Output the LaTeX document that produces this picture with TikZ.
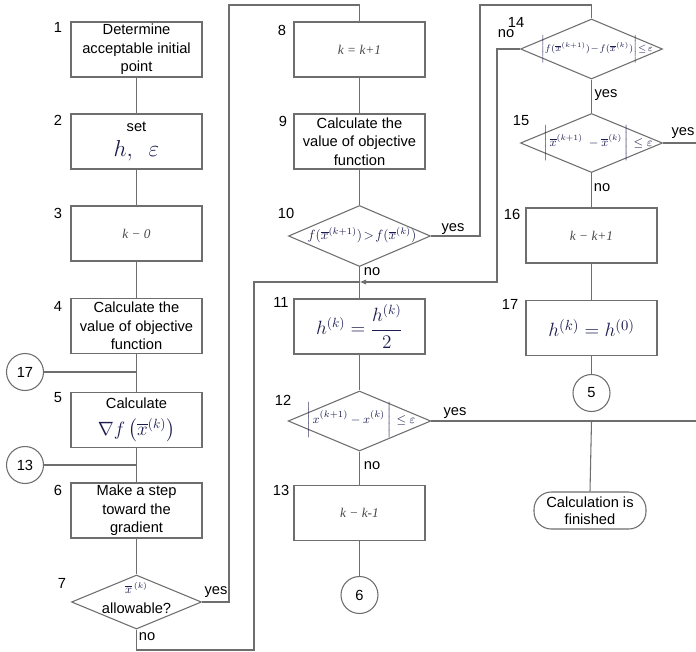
\documentclass[tikz,border=0pt]{standalone}
\usepackage{fontspec}
\usepackage{amsmath}
\setmainfont{Liberation Sans}
\newfontfamily\timesf{Liberation Serif}
\usetikzlibrary{arrows.meta,shapes.geometric}
\definecolor{ln}{HTML}{6E6E6E}
\definecolor{mc}{HTML}{1C1C50}
\definecolor{kc}{HTML}{4A4A4A}
\tikzset{
  conn/.style={draw=ln, line width=0.8pt},
  boxn/.style={draw=ln, line width=0.8pt, fill=white, minimum width=98.25pt, minimum height=41.25pt, inner sep=1pt, align=center, font=\fontsize{11}{13.8}\selectfont},
  kbox/.style={boxn, font=\fontsize{10}{12}\timesf\itshape, text=kc},
  mbox/.style={boxn, text=mc},
  dian/.style={draw=ln, line width=0.8pt, fill=white, shape=diamond, inner sep=0pt},
  circn/.style={draw=ln, line width=0.8pt, fill=white, circle, minimum size=27.75pt, inner sep=0pt, font=\fontsize{11}{13}\selectfont},
  numl/.style={font=\fontsize{11}{13}\selectfont, inner sep=0pt},
  lbl/.style={font=\fontsize{11}{13}\selectfont, inner sep=0pt},
  mtext/.style={text=mc, inner sep=0pt, align=center},
  termn/.style={draw=ln, line width=0.8pt, fill=white, rounded corners=13pt, minimum width=84pt, minimum height=27.75pt, inner sep=0pt, align=center, font=\fontsize{11}{13}\selectfont}
}
\begin{document}
\begin{tikzpicture}[x=0.75pt, y=-0.75pt]
\useasboundingbox (0,0) rectangle (696,651);
\fill[white] (0,0) rectangle (696,651);

% column 1
\node[boxn] (b1) at (136.5,49.5) {Determine\\acceptable initial\\point};
\node[boxn] (b2) at (136.5,141.5) {set\\[5pt]{\color{mc}\fontsize{16}{18}\selectfont$h,\ \ {\textstyle\varepsilon}$}};
\node[kbox] (b3) at (136.5,233.5) {k − 0};
\node[boxn] (b4) at (136.5,326) {Calculate the\\value of objective\\function};
\node[boxn] (b5) at (136.5,420) {Calculate\\[6pt]{\color{mc}\fontsize{14}{16}\selectfont$\nabla f\left(\overline{x}^{(k)}\right)$}};
\node[boxn] (b6) at (136.5,510.5) {Make a step\\toward the\\gradient};
\node[dian, minimum width=97.5pt, minimum height=40.5pt] (d7) at (136.5,602) {};
\node[mtext, font=\fontsize{9}{11}\selectfont] (t7a) at (136.5,588) {$\overline{x}^{\,(k)}$};
\node[lbl] (t7b) at (136.5,608) {allowable?};

\node[circn] (c17) at (25,372) {17};
\node[circn] (c13) at (25,465) {13};

% column 2
\node[kbox] (b8) at (359.5,49.5) {k = k+1};
\node[boxn] (b9) at (359.5,141.5) {Calculate the\\value of objective\\function};
\node[dian, minimum width=106.5pt, minimum height=45.75pt] (d10) at (359.5,236) {};
\node[mtext, font=\fontsize{10}{12}\selectfont] (t10) at (362,235) {$f(\overline{x}^{(k+1)})\!>\!f(\overline{x}^{(k)})$};
\node[mbox, font=\fontsize{14}{16}\selectfont] (b11) at (359.5,326.5) {$h^{(k)}=\dfrac{h^{(k)}}{2}$};
\node[dian, minimum width=107pt, minimum height=45pt] (d12) at (359.5,421) {};
\node[mtext, font=\fontsize{9.5}{11}\selectfont] (t12) at (361,420) {$\Bigg|\,x^{(k+1)}-x^{(k)}\,\Bigg|\,\le\varepsilon$};
\node[kbox] (b13) at (359.5,513) {k − k-1};
\node[circn] (c6) at (359.5,595) {6};

% column 3
\node[dian, minimum width=106.5pt, minimum height=45pt] (d14) at (591.5,49) {};
\node[mtext, font=\fontsize{7}{9}\selectfont] (t14) at (597,49) {$\Bigg|f(\overline{x}^{(k+1)})\!-\!f(\overline{x}^{(k)})\Bigg|\!\le\!\varepsilon$};
\node[dian, minimum width=106.5pt, minimum height=44.25pt] (d15) at (591.5,143) {};
\node[mtext, font=\fontsize{9}{11}\selectfont] (t15) at (598,143) {$\Bigg|\,\overline{x}^{(k+1)}\ -\overline{x}^{(k)}\,\Bigg|\,\le\varepsilon$};
\node[kbox] (b16) at (591.5,235.5) {k − k+1};
\node[mbox, font=\fontsize{15}{17}\selectfont] (b17) at (591.5,328) {$h^{(k)}=h^{(0)}$};
\node[circn] (c5) at (591.5,393) {5};
\node[termn] (term) at (590,510.5) {Calculation is\\finished};

% step numbers
\node[numl] (n1) at (58,27) {1};
\node[numl] (n2) at (58,120) {2};
\node[numl] (n3) at (58,213) {3};
\node[numl] (n4) at (58,306) {4};
\node[numl] (n5) at (58,398) {5};
\node[numl] (n6) at (58,490) {6};
\node[numl] (n7) at (62,583) {7};
\node[numl] (n8) at (282,30) {8};
\node[numl] (n9) at (283,121) {9};
\node[numl] (n10) at (286,213) {10};
\node[numl] (n11) at (281,302) {11};
\node[numl] (n12) at (283,400) {12};
\node[numl] (n13) at (281,490) {13};
\node[numl] (n14) at (516,22) {14};
\node[numl] (n15) at (521,121) {15};
\node[numl] (n16) at (512,214) {16};
\node[numl] (n17) at (510,304) {17};

% yes / no labels
\node[lbl] (y7) at (216,592) {yes};
\node[lbl] (no7) at (147,637) {no};
\node[lbl] (y10) at (453,229) {yes};
\node[lbl] (no10) at (372,272) {no};
\node[lbl] (y12) at (455,413) {yes};
\node[lbl] (no12) at (372,466) {no};
\node[lbl] (no14) at (506,34) {no};
\node[lbl] (y14) at (606,95) {yes};
\node[lbl] (y15) at (683,133) {yes};
\node[lbl] (no15) at (602,188) {no};

% coordinates
\coordinate (p7a) at (229,5);
\coordinate (p7b) at (254,650);
\coordinate (j11) at (359.5,282);
\coordinate (p10) at (480,5);
\coordinate (p14) at (497,282);
\coordinate (e15) at (696,143);
\coordinate (e12) at (696,421);
\coordinate (j5) at (591.5,421);

% connectors column 1
\draw[conn] (b1) -- (b2);
\draw[conn] (b2) -- (b3);
\draw[conn] (b3) -- (b4);
\draw[conn] (b4) -- (b5);
\draw[conn] (b5) -- (b6);
\draw[conn] (b6) -- (d7);
\draw[conn] (c17) -- (c17 -| b4.south);
\draw[conn] (c13) -- (c13 -| b5.south);
\draw[conn] (d7.east) -| (p7a) -| (b8.north);
\draw[conn] (d7.south) |- (p7b) |- (j11);

% connectors column 2
\draw[conn] (b8) -- (b9);
\draw[conn] (b9) -- (d10);
\draw[conn] (d10.south) -- (b11.north);
\draw[conn] (b11) -- (d12);
\draw[conn] (d12.south) -- (b13.north);
\draw[conn] (b13) -- (c6);
\draw[conn] (d10.east) -| (p10) -| (d14.north);
\draw[conn] (d12.east) -- (e12);

% connectors column 3
\draw[conn, -{Latex[length=5pt,width=4pt]}] (d14.west) -| (p14) -- (j11);
\draw[conn] (d14.south) -- (d15.north);
\draw[conn] (d15.east) -- (e15);
\draw[conn] (d15.south) -- (b16.north);
\draw[conn] (b16) -- (b17);
\draw[conn] (b17) -- (c5);
\draw[conn] (j5) -- (term.north);
\end{tikzpicture}
\end{document}
